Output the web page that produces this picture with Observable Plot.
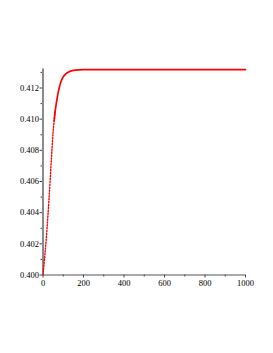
<!DOCTYPE html>
<html>
<head>
<meta charset="utf-8">
<script src="https://cdn.jsdelivr.net/npm/d3@7"></script>
<script src="https://cdn.jsdelivr.net/npm/@observablehq/plot@0.6"></script>
<style>
  html, body { margin: 0; padding: 0; background: #fff; }
  svg { display: block; }
</style>
</head>
<body>
<div id="chart"></div>
<script>
// Values
const nValues = [0, 5, 10, 15, 20, 25, 30, 35, 40, 45, 50, 55, 60, 65, 70, 75, 80, 85, 90, 95, 100, 110, 120, 130, 140, 150, 160, 175, 200, 300, 400, 500, 600, 700, 800, 900, 1000];
const yValues = [0.40000, 0.40070, 0.40140, 0.40215, 0.40300, 0.40395, 0.40495, 0.40600, 0.40715, 0.40820, 0.40915, 0.40990, 0.41050, 0.41095, 0.41135, 0.41170, 0.41200, 0.41225, 0.41245, 0.41260, 0.41272, 0.41288, 0.41298, 0.41305, 0.41310, 0.41313, 0.41315, 0.41317, 0.41318, 0.41318, 0.41318, 0.41318, 0.41318, 0.41318, 0.41318, 0.41318, 0.41318];
const xMajorTicks = [0, 200, 400, 600, 800, 1000];
const xMinorTicks = [100, 300, 500, 700, 900];
const yMajorTicks = [0.400, 0.402, 0.404, 0.406, 0.408, 0.410, 0.412];
const yMinorTicks = [0.401, 0.403, 0.405, 0.407, 0.409, 0.411, 0.413];

const data = nValues.map((n, i) => ({n, y: yValues[i]}));
const rising = data.filter(d => d.n <= 60);
const flat = data.filter(d => d.n >= 55);

const font = "Liberation Serif, Times New Roman, serif";

const chart = Plot.plot({
  width: 273,
  height: 353,
  marginLeft: 42.5,
  marginRight: 28,
  marginTop: 68.5,
  marginBottom: 78.5,
  style: {fontFamily: font, fontSize: "8.5px", color: "#000", background: "#fff"},
  x: {domain: [0, 1000], axis: null},
  y: {domain: [0.4, 0.41322], axis: null},
  marks: [
    Plot.axisX(xMajorTicks, {label: null, tickSize: 3, tickPadding: 2, tickFormat: d3.format("d"), stroke: "#444", fill: "#000", fontSize: 8.5}),
    Plot.axisX(xMinorTicks, {label: null, tickSize: 2, tickFormat: () => "", stroke: "#444"}),
    Plot.axisY(yMajorTicks, {label: null, tickSize: 3, tickPadding: 1, tickFormat: d3.format(".3f"), stroke: "#444", fill: "#000", fontSize: 8.5}),
    Plot.axisY(yMinorTicks, {label: null, tickSize: 2, tickFormat: () => "", stroke: "#444"}),
    Plot.ruleY([0.4], {stroke: "#555", strokeWidth: 1.2}),
    Plot.ruleX([0], {stroke: "#8a8a8a", strokeWidth: 2}),
    Plot.line(rising, {x: "n", y: "y", stroke: "#ff0000", strokeWidth: 1.4, strokeDasharray: "1.3,1.6", curve: "monotone-x"}),
    Plot.line(flat, {x: "n", y: "y", stroke: "#ff0000", strokeWidth: 1.7, curve: "monotone-x"})
  ]
});
document.getElementById("chart").appendChild(chart);
</script>
</body>
</html>
